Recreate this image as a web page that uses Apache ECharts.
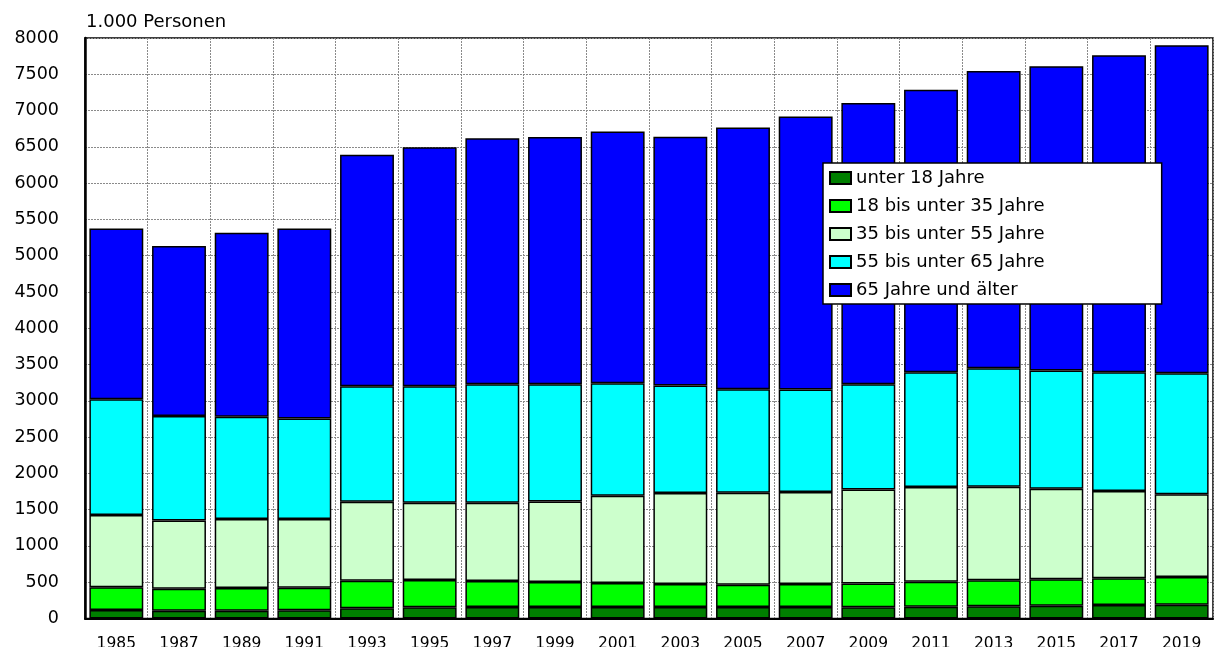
<!DOCTYPE html>
<html>
<head>
<meta charset="utf-8">
<script src="https://cdn.jsdelivr.net/npm/echarts@6/dist/echarts.min.js"></script>
<style>
html,body{margin:0;padding:0;background:#fff;}
#chart{width:1214px;height:647px;}
</style>
</head>
<body>
<div id="chart"></div>
<script>
const years = ['1985','1987','1989','1991','1993','1995','1997','1999','2001','2003','2005','2007','2009','2011','2013','2015','2017','2019'];
const unter18 = [117,107,107,112,140,154,158,158,158,158,158,158,154,163,168,177,186,190];
const von18bis35 = [313,303,313,312,381,376,358,345,331,317,308,317,330,344,358,363,367,381];
const von35bis55 = [995,942,950,946,1087,1065,1079,1110,1202,1253,1266,1267,1295,1304,1289,1248,1203,1143];
const von55bis65 = [1598,1437,1410,1387,1594,1607,1634,1616,1552,1483,1429,1414,1450,1583,1635,1629,1638,1667];
const ab65 = [2352,2346,2535,2618,3188,3293,3391,3406,3467,3429,3607,3762,3876,3894,4095,4195,4368,4519];
const seriesNames = ['unter 18 Jahre','18 bis unter 35 Jahre','35 bis unter 55 Jahre','55 bis unter 65 Jahre','65 Jahre und älter'];
const unitLabel = '1.000 Personen';

const colors = ['#007F00','#00FF00','#CCFFCC','#00FFFF','#0000FF'];
const dataSets = [unter18, von18bis35, von35bis55, von55bis65, ab65];
const FONT = 'DejaVu Sans';

const chart = echarts.init(document.getElementById('chart'), null, {renderer:'canvas'});
chart.setOption({
  animation: false,
  backgroundColor: '#ffffff',
  title: {
    text: unitLabel,
    left: 86, top: 13, padding: 0,
    textStyle: {fontFamily: FONT, fontSize: 18, fontWeight: 'normal', color: '#000'}
  },
  legend: {
    orient: 'vertical',
    left: 823, top: 163,
    padding: [6, 117, 5, 6],
    itemGap: 10,
    itemWidth: 21, itemHeight: 12,
    icon: 'rect',
    backgroundColor: '#ffffff',
    borderColor: '#000',
    borderWidth: 1.5,
    borderRadius: 0,
    textStyle: {fontFamily: FONT, fontSize: 18, color: '#000', lineHeight: 17.5},
    data: seriesNames
  },
  grid: {left: 85, right: 1, top: 38, bottom: 28.5, outerBoundsMode: 'none', containLabel: false, show: true, borderColor: '#000', borderWidth: 1.5, backgroundColor: 'transparent'},
  xAxis: {
    type: 'category',
    data: years,
    boundaryGap: true,
    axisLine: {show: true, lineStyle: {color: '#000', width: 2}},
    axisTick: {show: false},
    axisLabel: {interval: 0, margin: 17, fontFamily: FONT, fontSize: 15.5, color: '#000'},
    splitLine: {show: true, interval: 0, lineStyle: {color: '#8a8a8a', width: 1, type: [2, 1]}}
  },
  yAxis: {
    type: 'value',
    min: 0, max: 8000, interval: 500,
    axisLine: {show: true, lineStyle: {color: '#000', width: 2.5}},
    axisTick: {show: false},
    axisLabel: {margin: 26, fontFamily: FONT, fontSize: 17.5, color: '#000', formatter: v => String(v)},
    splitLine: {show: true, lineStyle: {color: '#8a8a8a', width: 1, type: [2, 1]}}
  },
  series: dataSets.map((d, i) => ({
    name: seriesNames[i],
    type: 'bar',
    stack: 'total',
    barCategoryGap: '14%',
    data: d,
    itemStyle: {color: colors[i], borderColor: '#000', borderWidth: 1.5}
  }))
});
</script>
</body>
</html>
